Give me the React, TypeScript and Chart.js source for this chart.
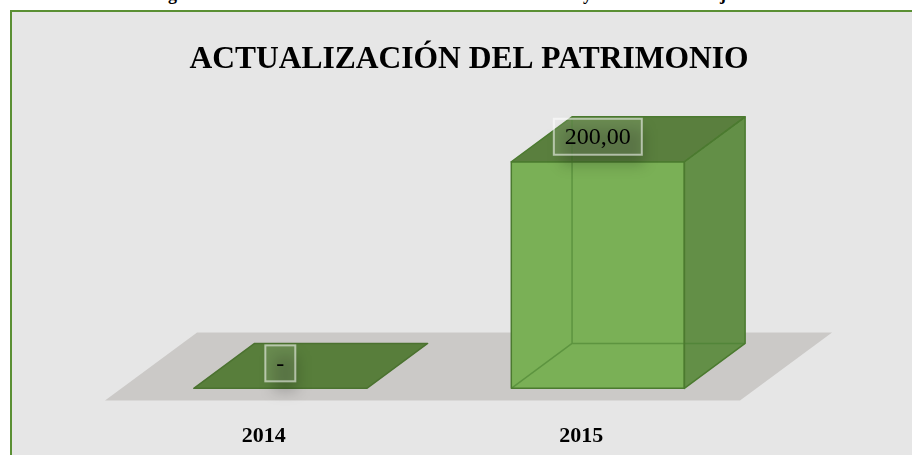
import React, { useEffect, useRef } from "react";
import { Chart, registerables } from "chart.js";

Chart.register(...registerables);

const CHART_TITLE = "ACTUALIZACIÓN DEL PATRIMONIO";
const CATEGORIES = ["2014", "2015"];
const VALUES = [0, 200];
const VALUE_LABELS = ["-", "200,00"];
const Y_MAX = 200;

const SERIF = "'Liberation Serif', 'Times New Roman', serif";

// 3D geometry style constants
const FLOOR_DX = 0.29; // depth of floor as fraction of category width
const FLOOR_SLOPE = 68 / 92;
const FRONT_T = 0.18;
const BACK_T = 0.84;

const box3d = {
  id: "box3d",
  beforeDatasetsDraw(chart: any) {
    const { ctx, chartArea, scales } = chart;
    const catW = (chartArea.right - chartArea.left) / CATEGORIES.length;
    const dx = catW * FLOOR_DX;
    const dy = -dx * FLOOR_SLOPE;
    const base = scales.y.getPixelForValue(0);
    ctx.save();
    // title
    ctx.fillStyle = "#000";
    ctx.font = `bold 31.5px ${SERIF}`;
    ctx.textAlign = "center";
    ctx.textBaseline = "alphabetic";
    ctx.fillText(CHART_TITLE, 469, 68);
    // floor
    ctx.fillStyle = "#cbc9c7";
    ctx.beginPath();
    ctx.moveTo(chartArea.left, base);
    ctx.lineTo(chartArea.right, base);
    ctx.lineTo(chartArea.right + dx, base + dy);
    ctx.lineTo(chartArea.left + dx, base + dy);
    ctx.closePath();
    ctx.fill();
    ctx.restore();
  },
  afterDatasetsDraw(chart: any) {
    const { ctx, chartArea } = chart;
    const catW = (chartArea.right - chartArea.left) / CATEGORIES.length;
    const dx = catW * FLOOR_DX;
    const dy = -dx * FLOOR_SLOPE;
    const meta = chart.getDatasetMeta(0);
    const poly = (pts: number[][]) => {
      ctx.beginPath();
      ctx.moveTo(pts[0][0], pts[0][1]);
      for (let k = 1; k < pts.length; k++) ctx.lineTo(pts[k][0], pts[k][1]);
      ctx.closePath();
    };
    meta.data.forEach((bar: any, i: number) => {
      const p = bar.getProps(["x", "y", "base", "width"], true);
      const fx = FRONT_T * dx, fy = FRONT_T * dy;
      const ddx = (BACK_T - FRONT_T) * dx, ddy = (BACK_T - FRONT_T) * dy;
      const L = p.x - p.width / 2 + fx;
      const R = p.x + p.width / 2 + fx;
      const Fb = p.base + fy;
      const Ft = p.y + fy;
      ctx.save();
      ctx.lineJoin = "round";
      if (Fb - Ft < 1) {
        poly([[L, Fb], [R, Fb], [R + ddx, Fb + ddy], [L + ddx, Fb + ddy]]);
        ctx.fillStyle = "#587e3b";
        ctx.fill();
        ctx.strokeStyle = "#4b7230";
        ctx.lineWidth = 1.5;
        ctx.stroke();
      } else {
        // front
        poly([[L, Fb], [R, Fb], [R, Ft], [L, Ft]]);
        ctx.fillStyle = "#7ab056";
        ctx.fill();
        // right
        poly([[R, Fb], [R, Ft], [R + ddx, Ft + ddy], [R + ddx, Fb + ddy]]);
        ctx.fillStyle = "#638f47";
        ctx.fill();
        // top
        poly([[L, Ft], [R, Ft], [R + ddx, Ft + ddy], [L + ddx, Ft + ddy]]);
        ctx.fillStyle = "#5a7f3e";
        ctx.fill();
        // hidden edges
        ctx.strokeStyle = "rgba(70,125,45,0.55)";
        ctx.lineWidth = 1.5;
        ctx.beginPath();
        ctx.moveTo(L, Fb);
        ctx.lineTo(L + ddx, Fb + ddy);
        ctx.lineTo(R + ddx, Fb + ddy);
        ctx.moveTo(L + ddx, Fb + ddy);
        ctx.lineTo(L + ddx, Ft + ddy);
        ctx.stroke();
        // visible edges
        ctx.strokeStyle = "#4b7a2f";
        ctx.lineWidth = 1.5;
        poly([[L, Fb], [R, Fb], [R, Ft], [L, Ft]]);
        ctx.stroke();
        poly([[R, Fb], [R, Ft], [R + ddx, Ft + ddy], [R + ddx, Fb + ddy]]);
        ctx.stroke();
        poly([[L, Ft], [R, Ft], [R + ddx, Ft + ddy], [L + ddx, Ft + ddy]]);
        ctx.stroke();
      }
      ctx.restore();

      // value label
      const text = VALUE_LABELS[i];
      ctx.save();
      ctx.font = `24px ${SERIF}`;
      const tw = ctx.measureText(text).width;
      const bw = tw + 22;
      const bh = 36;
      const cx = (L + R) / 2;
      const cy = Ft - 25;
      // soft shadow
      ctx.filter = "blur(7px)";
      ctx.fillStyle = "rgba(0,0,0,0.2)";
      ctx.fillRect(cx - bw / 2 + 8, cy - bh / 2 + 10, bw - 6, bh);
      ctx.filter = "none";
      ctx.fillStyle = "rgba(255,255,255,0.1)";
      ctx.fillRect(cx - bw / 2, cy - bh / 2, bw, bh);
      ctx.strokeStyle = "rgba(255,255,255,0.55)";
      ctx.lineWidth = 2;
      ctx.strokeRect(cx - bw / 2, cy - bh / 2, bw, bh);
      ctx.fillStyle = "#000";
      ctx.textAlign = "center";
      ctx.textBaseline = "middle";
      ctx.fillText(text, cx, cy + 1);
      ctx.restore();
    });
  },
};

export default function App() {
  const ref = useRef<HTMLCanvasElement | null>(null);
  useEffect(() => {
    if (!ref.current) return;
    const chart = new Chart(ref.current, {
      type: "bar",
      data: {
        labels: CATEGORIES,
        datasets: [
          {
            data: VALUES,
            backgroundColor: "rgba(0,0,0,0)",
            borderWidth: 0,
            barPercentage: 0.545,
            categoryPercentage: 1,
          },
        ],
      },
      options: {
        responsive: false,
        animation: false,
        layout: { padding: { left: 105, right: 172, top: 174, bottom: 7 } },
        plugins: {
          legend: { display: false },
          tooltip: { enabled: false },
          title: { display: false },
        },
        scales: {
          x: {
            grid: { display: false, drawTicks: false },
            border: { display: false },
            ticks: {
              padding: 23,
              color: "#000",
              font: { family: SERIF, size: 22, weight: "bold" },
            },
          },
          y: { display: false, min: 0, max: Y_MAX },
        },
      },
      plugins: [box3d],
    });
    return () => chart.destroy();
  }, []);

  const capStyle: React.CSSProperties = {
    position: "absolute",
    top: -15.6,
    lineHeight: "18px",
    font: `bold 18px ${SERIF}`,
    color: "#000",
    whiteSpace: "nowrap",
  };

  return (
    <div
      style={{
        position: "fixed",
        left: 0,
        top: 0,
        width: 912,
        height: 455,
        overflow: "hidden",
        background: "#fff",
      }}
    >
      <span style={{ ...capStyle, left: 152 }}>Figura N° 01: Actualización del Patrimonio 2014</span>
      <span style={{ ...capStyle, left: 583 }}>y 2015</span>
      <span style={{ ...capStyle, left: 711 }}>ajuste</span>
      <div
        style={{
          position: "absolute",
          left: 10,
          top: 10,
          width: 940,
          height: 500,
          background: "#e6e6e6",
          border: "2px solid #5b9034",
        }}
      />
      <canvas
        ref={ref}
        width={912}
        height={480}
        style={{ position: "absolute", left: 0, top: 0, display: "block" }}
      />
    </div>
  );
}
